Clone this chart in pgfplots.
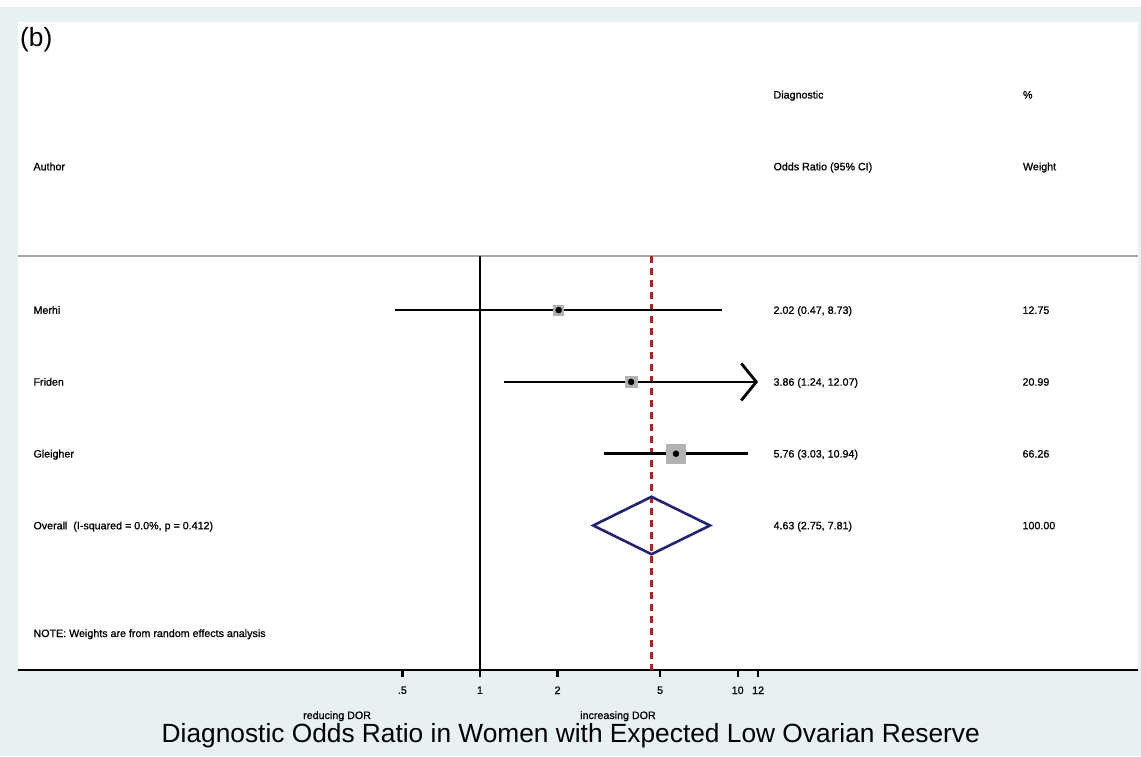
\documentclass[border=0pt]{standalone}
\usepackage{fontspec}
\setmainfont{Liberation Sans}
\newfontfamily\heavysf{Liberation Sans}[FakeBold=0.9]
\usepackage{pgfplots}
\pgfplotsset{compat=1.18}
\usetikzlibrary{arrows.meta}

\definecolor{panelbg}{RGB}{231,240,242}
\definecolor{boxgrey}{RGB}{178,178,178}
\definecolor{rulegrey}{RGB}{165,165,165}
\definecolor{refred}{RGB}{185,30,35}
\definecolor{pooledblue}{RGB}{35,35,115}

\newcommand{\sm}{\heavysf\fontsize{10.7pt}{12pt}\selectfont}
\newcommand{\bigf}{\fontsize{26.3pt}{30pt}\selectfont}

\begin{document}
\begin{tikzpicture}[x=1pt,y=1pt]
  % page background and white plot panel
  \fill[panelbg] (0,0) rectangle (1141,749);
  \fill[white] (0,749) rectangle (1141,756);
  \fill[white] (18,86) rectangle (1138,734);
  \begin{axis}[
    at={(18pt,86pt)}, anchor=south west,
    width=1120pt, height=648pt, scale only axis,
    xmode=log, xmin=0.01612, xmax=357.5,
    ymin=-1.0125, ymax=8.0125,
    axis x line=bottom, axis y line=none,
    axis line style={-, line width=2.6pt, black},
    xtick={0.5,1,2,5,10,12}, xticklabels={.5,1,2,5,10,12},
    minor xtick={}, ytick=\empty,
    tick align=outside, major tick length=7pt,
    every tick/.style={black, line width=2.2pt},
    xticklabel style={font=\sm, yshift=-6pt},
    /pgf/number format/assume math mode=true,
    clip=false,
  ]
    % header rule, null line and pooled-estimate line
    \addplot[rulegrey, line width=2pt] coordinates {(0.01612,4.754) (357.5,4.754)};
    \addplot[black, line width=2.5pt] coordinates {(1,4.754) (1,-1.0125)};
    \addplot[refred, line width=2.2pt, dash pattern=on 7pt off 5pt] coordinates {(4.63,4.754) (4.63,-1.0125)};

    % Merhi: 2.02 (0.47, 8.73), weight 12.75
    \addplot[only marks, mark=square*, mark size=5pt, boxgrey] coordinates {(2.02,4)};
    \addplot[black, line width=2.8pt] coordinates {(0.47,4) (8.73,4)};
    \addplot[only marks, mark=*, mark size=3pt, black] coordinates {(2.02,4)};

    % Friden: 3.86 (1.24, 12.07), weight 20.99 -- upper limit past the axis end at 12
    \addplot[only marks, mark=square*, mark size=5.75pt, boxgrey] coordinates {(3.86,3)};
    \addplot[black, line width=2.8pt, -{Straight Barb[length=15pt, width=37pt]}] coordinates {(1.24,3) (12,3)};
    \addplot[only marks, mark=*, mark size=3pt, black] coordinates {(3.86,3)};

    % Gleigher: 5.76 (3.03, 10.94), weight 66.26
    \addplot[only marks, mark=square*, mark size=9.5pt, boxgrey] coordinates {(5.76,2)};
    \addplot[black, line width=2.8pt] coordinates {(3.03,2) (10.94,2)};
    \addplot[only marks, mark=*, mark size=3pt, black] coordinates {(5.76,2)};

    % Overall: 4.63 (2.75, 7.81)
    \addplot[pooledblue, line width=2.6pt, line join=miter] coordinates {(2.75,1) (4.63,1.4) (7.81,1) (4.63,0.6)} -- cycle;

    % column headers
    \node[anchor=base west, font=\sm, yshift=-3.8pt] at (axis cs:0.01794,6) {Author};
    \node[anchor=base west, font=\sm, yshift=-3.8pt] at (axis cs:13.35,7) {Diagnostic};
    \node[anchor=base west, font=\sm, yshift=-3.8pt] at (axis cs:13.35,6) {Odds Ratio (95\% CI)};
    \node[anchor=base west, font=\sm, yshift=-3.8pt] at (axis cs:124,7) {\%};
    \node[anchor=base west, font=\sm, yshift=-3.8pt] at (axis cs:124,6) {Weight};

    % study rows
    \node[anchor=base west, font=\sm, yshift=-3.8pt] at (axis cs:0.01794,4) {Merhi};
    \node[anchor=base west, font=\sm, yshift=-3.8pt] at (axis cs:0.01794,3) {Friden};
    \node[anchor=base west, font=\sm, yshift=-3.8pt] at (axis cs:0.01794,2) {Gleigher};
    \node[anchor=base west, font=\sm, yshift=-3.8pt] at (axis cs:0.01794,1) {Overall\ \ (I-squared = 0.0\%, p = 0.412)};
    \node[anchor=base west, font=\sm, yshift=-3.8pt] at (axis cs:0.01794,-0.5) {NOTE: Weights are from random effects analysis};

    \node[anchor=base west, font=\sm, yshift=-3.8pt] at (axis cs:13.35,4) {2.02 (0.47, 8.73)};
    \node[anchor=base west, font=\sm, yshift=-3.8pt] at (axis cs:13.35,3) {3.86 (1.24, 12.07)};
    \node[anchor=base west, font=\sm, yshift=-3.8pt] at (axis cs:13.35,2) {5.76 (3.03, 10.94)};
    \node[anchor=base west, font=\sm, yshift=-3.8pt] at (axis cs:13.35,1) {4.63 (2.75, 7.81)};

    \node[anchor=base west, font=\sm, yshift=-3.8pt] at (axis cs:123.5,4) {12.75};
    \node[anchor=base west, font=\sm, yshift=-3.8pt] at (axis cs:123.5,3) {20.99};
    \node[anchor=base west, font=\sm, yshift=-3.8pt] at (axis cs:123.5,2) {66.26};
    \node[anchor=base west, font=\sm, yshift=-3.8pt] at (axis cs:123.5,1) {100.00};
  \end{axis}

  % panel letter, direction labels and axis title
  \node[anchor=base west, font=\bigf, inner sep=0pt] at (20,709.5) {(b)};
  \node[anchor=base west, font=\sm, inner sep=0pt] at (303,37) {reducing DOR};
  \node[anchor=base west, font=\sm, inner sep=0pt] at (580,37) {increasing DOR};
  \node[anchor=base, font=\bigf, inner sep=0pt] at (570.8,14) {Diagnostic Odds Ratio in Women with Expected Low Ovarian Reserve};
\end{tikzpicture}
\end{document}
